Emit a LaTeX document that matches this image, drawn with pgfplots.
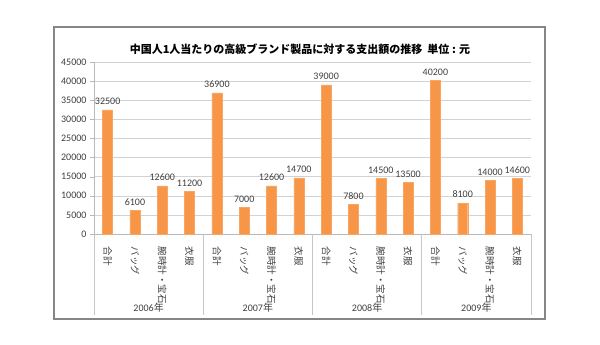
\documentclass[border=0pt]{standalone}
\usepackage{pgfplots}
\pgfplotsset{compat=1.18}
\usepackage{fontspec}
\setmainfont{Carlito}
\newfontfamily\jp{Noto Sans CJK JP}
\definecolor{barc}{HTML}{F79646}
\definecolor{txt}{HTML}{404040}
\begin{document}
\begin{tikzpicture}[x=1pt,y=1pt]
\fill[white] (0,0) rectangle (600,345);
\draw[color={rgb,255:red,134;green,134;blue,134}, line width=1.3pt] (54,26) rectangle (545,318);
\node[font=\jp\bfseries\fontsize{11pt}{13pt}\selectfont, text=black] at (300,296) {中国人1人当たりの高級ブランド製品に対する支出額の推移 \ 単位 : 元};
\begin{axis}[
  at={(94pt,111pt)}, anchor=south west,
  scale only axis, width=437pt, height=172pt,
  xmin=-0.5, xmax=15.5, ymin=0, ymax=45000,
  ytick={0,5000,...,45000},
  scaled y ticks=false,
  xtick={0,...,15},
  xticklabels={合計,バッグ,腕時計・宝石,衣服,合計,バッグ,腕時計・宝石,衣服,合計,バッグ,腕時計・宝石,衣服,合計,バッグ,腕時計・宝石,衣服},
  axis lines*=left,
  axis line style={color=gray!55},
  ymajorgrids, grid style={color=gray!35},
  tick align=outside, major tick length=4pt,
  ytick style={color=gray!55},
  xtick style={draw=none},
  extra x ticks={-0.5,3.5,7.5,11.5,15.5},
  extra x tick labels={},
  extra x tick style={major tick length=81pt, tick align=outside, xtick style={draw=gray!45, line width=0.8pt}, grid=none},
  /pgf/number format/1000 sep={},
  /pgf/number format/assume math mode=true,
  yticklabel style={font=\fontsize{10pt}{12pt}\selectfont, text=txt},
  x tick label style={yshift=-5pt, rotate=-90, anchor=west, font=\jp\fontsize{9.5pt}{11pt}\selectfont, text=txt},
  ybar, bar width=10pt,
  nodes near coords,
  every node near coord/.append style={font=\fontsize{10pt}{12pt}\selectfont, text=txt, yshift=1.5pt},
  clip=false,
]
\addplot[fill=barc, draw=barc!85!white] coordinates {
(0,32500) (1,6100) (2,12600) (3,11200)
(4,36900) (5,7000) (6,12600) (7,14700)
(8,39000) (9,7800) (10,14500) (11,13500)
(12,40200) (13,8100) (14,14000) (15,14600)
};
\node[font=\fontsize{10pt}{12pt}\selectfont, text=txt] at (axis cs:1.5,0) [yshift=-74pt] {2006{\jp 年}};
\node[font=\fontsize{10pt}{12pt}\selectfont, text=txt] at (axis cs:5.5,0) [yshift=-74pt] {2007{\jp 年}};
\node[font=\fontsize{10pt}{12pt}\selectfont, text=txt] at (axis cs:9.5,0) [yshift=-74pt] {2008{\jp 年}};
\node[font=\fontsize{10pt}{12pt}\selectfont, text=txt] at (axis cs:13.5,0) [yshift=-74pt] {2009{\jp 年}};
\end{axis}
\end{tikzpicture}
\end{document}
